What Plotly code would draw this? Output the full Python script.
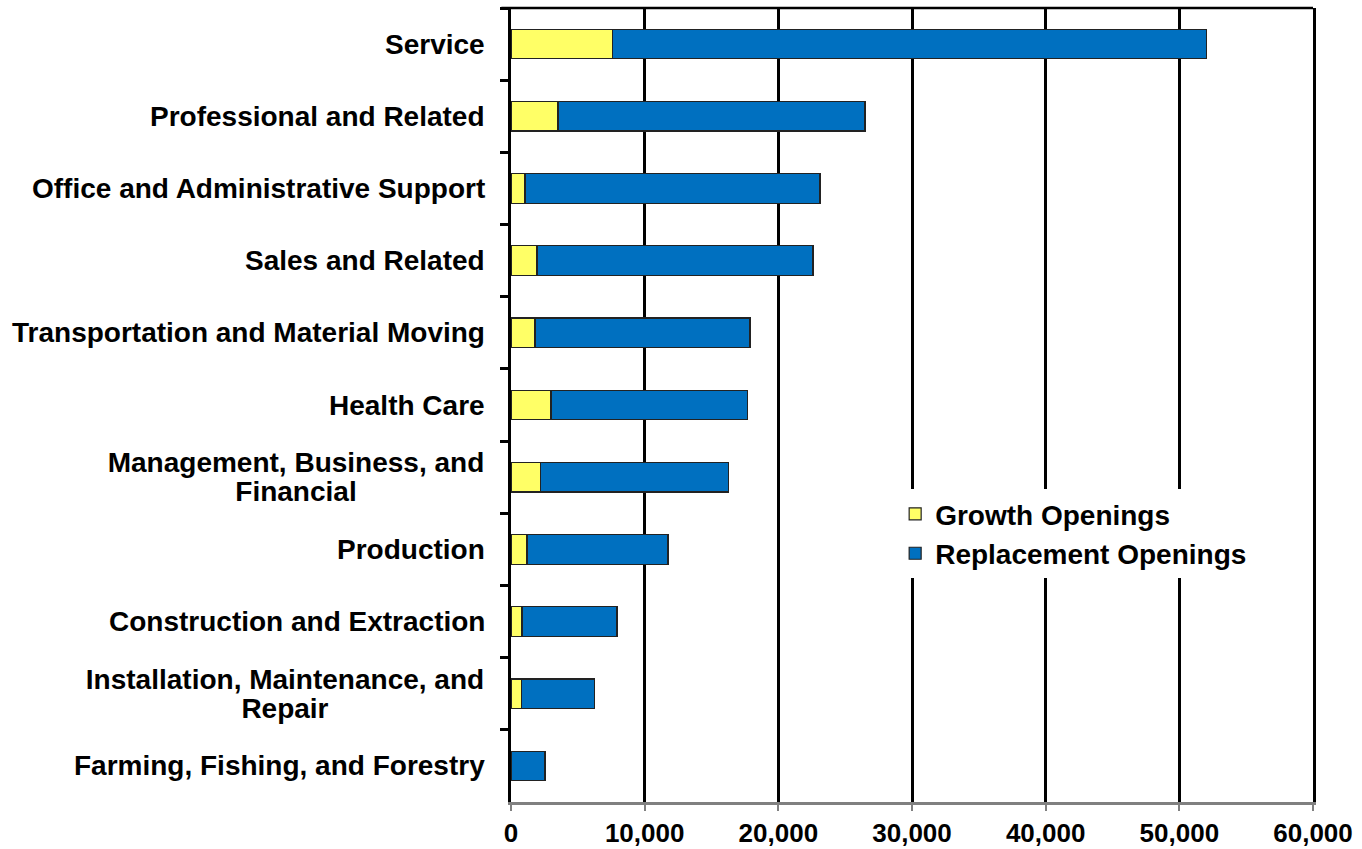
import plotly.graph_objects as go

categories = [
    "Service",
    "Professional and Related",
    "Office and Administrative Support",
    "Sales and Related",
    "Transportation and Material Moving",
    "Health Care",
    "Management, Business, and<br>Financial",
    "Production",
    "Construction and Extraction",
    "Installation, Maintenance, and<br>Repair",
    "Farming, Fishing, and Forestry",
]
growth_openings = [7600, 3520, 1050, 1950, 1800, 2990, 2200, 1200, 830, 780, 0]
total_openings = [52030, 26480, 23110, 22590, 17880, 17680, 16260, 11750, 7930, 6260, 2540]
replacement_openings = [t - g for t, g in zip(total_openings, growth_openings)]
x_tick_values = [0, 10000, 20000, 30000, 40000, 50000, 60000]

FONT = "Liberation Sans, Arial, sans-serif"
LABEL_FONT = dict(family=FONT, size=28, color="black", weight="bold")
# text-box widths of the first line of the two-line labels (for centring line 2)
two_line_box_width = {
    "Management, Business, and<br>Financial": 380,
    "Installation, Maintenance, and<br>Repair": 402,
}

fig = go.Figure()
fig.add_trace(go.Bar(
    y=categories, x=growth_openings, orientation="h", name="Growth Openings",
    marker=dict(color="#FFFF66", line=dict(color="#222222", width=1.2)),
    width=0.41,
))
fig.add_trace(go.Bar(
    y=categories, x=replacement_openings, orientation="h", name="Replacement Openings",
    marker=dict(color="#0070C0", line=dict(color="#222222", width=1.2)),
    width=0.41,
))

for c in categories:
    lines = c.split("<br>")
    if len(lines) == 1:
        fig.add_annotation(
            x=0, xref="paper", y=c, yref="y", text=c, showarrow=False,
            xanchor="right", yanchor="middle", xshift=-24, font=LABEL_FONT,
        )
    else:
        w = two_line_box_width[c]
        for i, line in enumerate(lines):
            fig.add_annotation(
                x=0, xref="paper", y=c, yref="y", text=line, showarrow=False,
                xanchor="right", yanchor="middle", align="center", width=w,
                xshift=-23, yshift=14.5 - 29 * i, font=LABEL_FONT,
            )

fig.add_shape(type="line", xref="paper", yref="paper", x0=-0.012, x1=1, y0=1, y1=1,
              line=dict(color="black", width=2.5))

fig.update_layout(
    width=1362, height=849,
    margin=dict(l=511, r=49, t=8, b=47, autoexpand=False),
    barmode="stack",
    plot_bgcolor="white", paper_bgcolor="white",
    font=dict(family=FONT, size=27, color="black", weight="bold"),
    showlegend=True,
    legend=dict(
        x=0.479, y=0.394, xanchor="left", yanchor="top",
        bgcolor="white", borderwidth=0, traceorder="normal",
        font=dict(family=FONT, size=28, color="black", weight="bold"),
        itemwidth=30, tracegroupgap=0,
    ),
    xaxis=dict(
        range=[0, 60000], tickvals=x_tick_values, tickformat=",d",
        showgrid=True, gridcolor="black", gridwidth=3,
        showline=True, linecolor="#808080", linewidth=3,
        ticks="outside", ticklen=6, tickcolor="#808080", tickwidth=1.5,
        zeroline=False, ticklabelstandoff=0, automargin=False,
        tickfont=dict(family=FONT, size=26, color="black", weight="bold"),
    ),
    yaxis=dict(
        type="category", categoryorder="array", categoryarray=categories,
        autorange="reversed", tickson="boundaries", automargin=False,
        showticklabels=False, showgrid=False,
        showline=True, linecolor="black", linewidth=3, mirror=True,
        ticks="outside", ticklen=8, tickcolor="black", tickwidth=3,
    ),
)

fig.write_html("out.html", config={"displayModeBar": False},
               post_script="document.body.style.margin='0px';")
